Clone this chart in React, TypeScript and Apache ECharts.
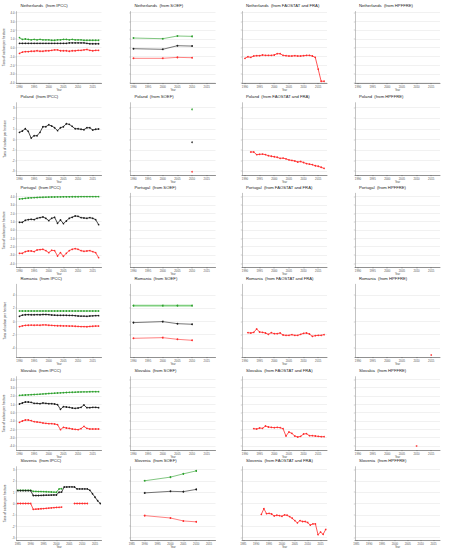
import React, { useEffect, useRef } from "react";
import * as echarts from "echarts";

// ---------- categories ----------
const countries = ["Netherlands", "Poland", "Portugal", "Romania", "Slovakia", "Slovenia"];
const sources = ["IPCC", "SOEF", "FAOSTAT and FRA", "HPFFRE"];

const years9017 = [1990, 1991, 1992, 1993, 1994, 1995, 1996, 1997, 1998, 1999, 2000, 2001, 2002, 2003, 2004, 2005, 2006, 2007, 2008, 2009, 2010, 2011, 2012, 2013, 2014, 2015, 2016, 2017];
const years8517 = [1985, 1986, 1987, 1988, 1989, 1990, 1991, 1992, 1993, 1994, 1995, 1996, 1997, 1998, 1999, 2000, 2001, 2002, 2003, 2004, 2005, 2006, 2007, 2008, 2009, 2010, 2011, 2012, 2013, 2014, 2015, 2016, 2017];
const years9117 = years9017.slice(1);
const years9217 = years9017.slice(2);
const years9317 = years9017.slice(3);
const soefYears = [1990, 2000, 2005, 2010];

const xTicks = [1990, 1995, 2000, 2005, 2010, 2015];
const xTicksSlovenia = [1985, 1990, 1995, 2000, 2005, 2010, 2015];

const yTicks9 = [-4, -3, -2, -1, 0, 1, 2, 3, 4];
const yTicks7 = [-3, -2, -1, 0, 1, 2, 3];
const yTicks5 = [-4, -2, 0, 2, 4];

// ---------- Netherlands ----------
const nlIpccGain = [1.15, 0.95, 1.0, 0.95, 0.9, 0.95, 0.9, 0.95, 0.9, 0.9, 0.9, 0.85, 0.85, 0.9, 0.9, 0.95, 0.95, 0.9, 0.95, 0.9, 0.9, 0.9, 0.85, 0.85, 0.85, 0.85, 0.85, 0.85];
const nlIpccNet = [0.5, 0.5, 0.5, 0.5, 0.5, 0.5, 0.5, 0.5, 0.5, 0.5, 0.5, 0.5, 0.5, 0.5, 0.5, 0.5, 0.5, 0.55, 0.55, 0.55, 0.55, 0.55, 0.55, 0.5, 0.45, 0.45, 0.45, 0.45];
const nlIpccLoss = [-0.65, -0.5, -0.45, -0.45, -0.4, -0.4, -0.35, -0.4, -0.4, -0.35, -0.35, -0.3, -0.25, -0.25, -0.35, -0.35, -0.35, -0.4, -0.35, -0.35, -0.3, -0.3, -0.25, -0.2, -0.3, -0.35, -0.3, -0.3];
const nlSoefGain = [1.11, 1.03, 1.34, 1.3];
const nlSoefNet = [-0.11, -0.18, 0.23, 0.19];
const nlSoefLoss = [-1.21, -1.21, -1.1, -1.14];
const nlFao = [-1.21, -1.03, -1.1, -0.95, -0.91, -0.91, -0.83, -0.87, -0.87, -0.87, -0.83, -0.68, -0.68, -0.87, -0.91, -0.95, -0.95, -0.91, -0.95, -0.95, -0.91, -0.87, -0.87, -0.95, -1.1, -2.45, -3.83, -3.83];

// ---------- Poland ----------
const plIpccNet = [0.66, 0.79, 1.0, 0.76, 0.12, 0.34, 0.34, 0.66, 1.19, 1.19, 1.38, 1.26, 1.1, 0.82, 1.1, 1.19, 1.48, 1.42, 1.23, 1.0, 1.0, 0.95, 0.91, 1.1, 1.1, 0.88, 0.95, 0.98];
const plSoefYear = [2010];
const plSoefGain = [2.84];
const plSoefNet = [-0.28];
const plSoefLoss = [-3.07];
const plFao = [-1.2, -1.2, -1.45, -1.42, -1.4, -1.45, -1.55, -1.6, -1.65, -1.7, -1.8, -1.78, -1.85, -1.95, -2.0, -2.05, -2.15, -2.1, -2.2, -2.3, -2.35, -2.4, -2.5, -2.55, -2.65, -2.75];

// ---------- Portugal ----------
const ptIpccGain = [3.72, 3.75, 3.8, 3.84, 3.86, 3.88, 3.9, 3.92, 3.93, 3.94, 3.95, 3.96, 3.96, 3.97, 3.97, 3.98, 3.98, 3.98, 3.99, 3.99, 3.99, 4.0, 4.0, 4.0, 4.0, 4.0, 4.0, 4.0];
const ptIpccNet = [0.92, 0.92, 1.16, 1.24, 1.28, 1.24, 1.4, 1.48, 1.56, 1.4, 1.12, 1.4, 1.52, 0.8, 1.2, 0.76, 1.08, 1.4, 1.52, 1.68, 1.64, 1.48, 1.44, 1.4, 1.48, 1.4, 1.24, 0.64];
const ptIpccLoss = [-2.8, -2.8, -2.6, -2.52, -2.52, -2.6, -2.4, -2.36, -2.32, -2.48, -2.72, -2.44, -2.48, -3.12, -2.72, -3.16, -2.8, -2.48, -2.32, -2.24, -2.32, -2.48, -2.56, -2.52, -2.48, -2.6, -2.72, -3.32];

// ---------- Romania ----------
const roIpccGain = [1.55, 1.55, 1.55, 1.55, 1.55, 1.55, 1.55, 1.55, 1.55, 1.55, 1.55, 1.55, 1.55, 1.55, 1.55, 1.55, 1.55, 1.55, 1.55, 1.55, 1.55, 1.55, 1.55, 1.55, 1.55, 1.55, 1.55, 1.55];
const roIpccNet = [0.75, 0.93, 0.98, 1.0, 0.98, 0.98, 1.0, 0.98, 1.02, 1.02, 1.0, 0.95, 0.92, 0.9, 0.9, 0.9, 0.9, 0.88, 0.88, 0.85, 0.8, 0.78, 0.78, 0.75, 0.8, 0.82, 0.85, 0.85];
const roIpccLoss = [-0.81, -0.7, -0.62, -0.6, -0.58, -0.6, -0.58, -0.6, -0.55, -0.55, -0.6, -0.62, -0.65, -0.68, -0.68, -0.7, -0.7, -0.72, -0.72, -0.75, -0.78, -0.8, -0.8, -0.82, -0.78, -0.75, -0.72, -0.72];
const roSoefGain = [2.36, 2.36, 2.36, 2.36];
const roSoefNet = [-0.2, -0.05, -0.36, -0.45];
const roSoefLoss = [-2.57, -2.47, -2.72, -2.87];
const roFao = [-1.72, -1.77, -1.67, -1.16, -1.62, -1.67, -1.77, -1.97, -1.72, -1.87, -1.87, -1.77, -2.07, -2.12, -2.12, -2.02, -2.12, -2.12, -1.97, -1.82, -1.77, -1.92, -2.27, -2.17, -2.12, -2.12, -2.02];
const roHpfYear = [2015];
const roHpf = [-5.09];

// ---------- Slovakia ----------
const skIpccGain = [2.08, 2.1, 2.12, 2.14, 2.16, 2.18, 2.2, 2.22, 2.25, 2.27, 2.3, 2.32, 2.34, 2.36, 2.38, 2.4, 2.42, 2.44, 2.45, 2.46, 2.48, 2.49, 2.5, 2.5, 2.51, 2.52, 2.52, 2.52];
const skIpccNet = [1.04, 1.16, 1.28, 1.28, 1.24, 1.12, 1.12, 1.08, 1.16, 1.12, 1.08, 1.08, 1.04, 0.96, 0.4, 0.72, 0.68, 0.64, 0.56, 0.52, 0.56, 0.64, 0.92, 0.6, 0.6, 0.64, 0.64, 0.6];
const skIpccLoss = [-1.16, -1.0, -0.88, -0.88, -0.96, -1.08, -1.12, -1.16, -1.24, -1.28, -1.32, -1.32, -1.36, -1.44, -2.04, -1.76, -1.84, -1.88, -1.96, -2.0, -2.04, -1.92, -1.64, -1.88, -1.96, -1.96, -1.96, -1.96];
const skFao = [-1.92, -1.96, -1.84, -1.88, -1.6, -1.72, -1.76, -1.8, -1.76, -1.8, -1.92, -2.8, -2.32, -2.48, -2.8, -2.92, -2.84, -2.56, -2.52, -2.76, -2.76, -2.8, -2.84, -2.88, -2.88];
const skHpfYear = [2010];
const skHpf = [-4.0];

// ---------- Slovenia ----------
const siIpccGain = [1.16, 1.16, 1.16, 1.16, 1.16, 1.16, 1.07, 1.06, 1.05, 1.05, 1.04, 1.03, 1.02, 1.01, 1.0, 0.99, 1.28, 1.3, null, null, null, null, null, null, null, null, null, null, null, null, null, null, null];
const siIpccNet = [1.13, 1.13, 1.13, 1.13, 1.13, 1.13, 0.7, 0.7, 0.7, 0.71, 0.72, 0.73, 0.73, 0.74, 0.75, 0.75, 0.99, 1.0, 1.45, 1.45, 1.46, 1.46, 1.45, 1.28, 1.28, 1.28, 1.28, 1.28, 1.16, 0.86, 0.55, 0.24, 0.0];
const siIpccLoss = [0, 0, 0, 0, 0, 0, -0.52, -0.5, -0.49, -0.47, -0.45, -0.43, -0.41, -0.39, -0.37, -0.35, -0.34, -0.32, null, null, null, null, 0, 0, 0, 0, 0, 0, null, null, null, null, null];
const siSoefGain = [2.0, 2.32, 2.61, 2.87];
const siSoefNet = [0.93, 1.07, 1.04, 1.24];
const siSoefLoss = [-1.07, -1.28, -1.54, -1.62];
const siFao = [-0.96, -0.46, -0.9, -0.87, -0.93, -1.1, -1.04, -1.07, -1.13, -1.01, -1.04, -1.16, -1.3, -1.51, -1.71, -1.51, -1.59, -1.59, -1.68, -1.91, -1.8, -1.8, -2.75, -2.52, -2.72, -2.29];

// ---------- styling / layout ----------
const GREEN = "#2ca02c";
const RED = "#ff2b2b";
const BLACK = "#1a1a1a";
const FONT = "Liberation Sans, Arial, sans-serif";

const colLeft = [16.5, 130.5, 242, 355];
const colWidth = 85;
const rowTop = [11.5, 102.7, 193.3, 284.3, 376.7, 466.7];
const rowBottom = [83, 175, 267.3, 357, 450, 541];
const rowY = [
  { min: -4.03, max: 4.14, ticks: yTicks9, dec: 1 },
  { min: -3.38, max: 3.47, ticks: yTicks7, dec: 0 },
  { min: -4.48, max: 4.4, ticks: yTicks9, dec: 1 },
  { min: -5.39, max: 5.58, ticks: yTicks5, dec: 0 },
  { min: -4.48, max: 4.32, ticks: yTicks9, dec: 1 },
  { min: -3.22, max: 3.24, ticks: yTicks7, dec: 0 },
];

type S = { x: number[]; y: (number | null)[]; color: string; kind: "ipcc" | "soef" | "dot" | "fao"; width?: number };

const panelSeries: S[][] = [
  // Netherlands
  [
    { x: years9017, y: nlIpccGain, color: GREEN, kind: "ipcc" },
    { x: years9017, y: nlIpccNet, color: BLACK, kind: "ipcc" },
    { x: years9017, y: nlIpccLoss, color: RED, kind: "ipcc" },
  ],
  [
    { x: soefYears, y: nlSoefGain, color: GREEN, kind: "soef" },
    { x: soefYears, y: nlSoefNet, color: BLACK, kind: "soef" },
    { x: soefYears, y: nlSoefLoss, color: RED, kind: "soef" },
  ],
  [{ x: years9017, y: nlFao, color: RED, kind: "fao" }],
  [],
  // Poland
  [{ x: years9017, y: plIpccNet, color: BLACK, kind: "ipcc" }],
  [
    { x: plSoefYear, y: plSoefGain, color: GREEN, kind: "dot" },
    { x: plSoefYear, y: plSoefNet, color: BLACK, kind: "dot" },
    { x: plSoefYear, y: plSoefLoss, color: RED, kind: "dot" },
  ],
  [{ x: years9217, y: plFao, color: RED, kind: "fao" }],
  [],
  // Portugal
  [
    { x: years9017, y: ptIpccGain, color: GREEN, kind: "ipcc" },
    { x: years9017, y: ptIpccNet, color: BLACK, kind: "ipcc" },
    { x: years9017, y: ptIpccLoss, color: RED, kind: "ipcc" },
  ],
  [],
  [],
  [],
  // Romania
  [
    { x: years9017, y: roIpccGain, color: GREEN, kind: "ipcc" },
    { x: years9017, y: roIpccNet, color: BLACK, kind: "ipcc" },
    { x: years9017, y: roIpccLoss, color: RED, kind: "ipcc" },
  ],
  [
    { x: soefYears, y: roSoefGain, color: "#7fcf7f", kind: "soef", width: 1.6 },
    { x: soefYears, y: roSoefNet, color: BLACK, kind: "soef" },
    { x: soefYears, y: roSoefLoss, color: RED, kind: "soef" },
  ],
  [{ x: years9117, y: roFao, color: RED, kind: "fao" }],
  [{ x: roHpfYear, y: roHpf, color: RED, kind: "dot" }],
  // Slovakia
  [
    { x: years9017, y: skIpccGain, color: GREEN, kind: "ipcc" },
    { x: years9017, y: skIpccNet, color: BLACK, kind: "ipcc" },
    { x: years9017, y: skIpccLoss, color: RED, kind: "ipcc" },
  ],
  [],
  [{ x: years9317, y: skFao, color: RED, kind: "fao" }],
  [{ x: skHpfYear, y: skHpf, color: RED, kind: "dot" }],
  // Slovenia
  [
    { x: years8517, y: siIpccGain, color: GREEN, kind: "ipcc" },
    { x: years8517, y: siIpccNet, color: BLACK, kind: "ipcc" },
    { x: years8517, y: siIpccLoss, color: RED, kind: "ipcc" },
  ],
  [
    { x: soefYears, y: siSoefGain, color: GREEN, kind: "soef" },
    { x: soefYears, y: siSoefNet, color: BLACK, kind: "soef" },
    { x: soefYears, y: siSoefLoss, color: RED, kind: "soef" },
  ],
  [{ x: years9217, y: siFao, color: RED, kind: "fao" }],
  [],
];

function buildOption() {
  const grid: any[] = [];
  const xAxis: any[] = [];
  const yAxis: any[] = [];
  const series: any[] = [];
  const title: any[] = [];

  for (let r = 0; r < 6; r++) {
    for (let c = 0; c < 4; c++) {
      const p = r * 4 + c;
      const isSi = r === 5;
      const ry = rowY[r];
      grid.push({
        left: colLeft[c],
        top: rowTop[r],
        width: colWidth,
        height: rowBottom[r] - rowTop[r],
        containLabel: false,
      });
      const xt = isSi ? xTicksSlovenia : xTicks;
      xAxis.push({
        gridIndex: p,
        type: "value",
        min: isSi ? 1984.5 : 1989,
        max: isSi ? 2017.5 : 2018,
        axisLine: { show: true, onZero: false, lineStyle: { color: "#444", width: 0.6 } },
        axisTick: { show: true, length: 1.2, customValues: xt, lineStyle: { color: "#444", width: 0.4 } },
        axisLabel: {
          customValues: xt,
          fontSize: 2.8,
          color: "#555",
          margin: 2,
          fontFamily: FONT,
          formatter: (v: number) => String(v),
        },
        splitLine: { show: false },
        name: "Year",
        nameLocation: "middle",
        nameGap: 6,
        nameTextStyle: { fontSize: 2.6, color: "#444", fontFamily: FONT },
      });
      yAxis.push({
        gridIndex: p,
        type: "value",
        min: ry.min,
        max: ry.max,
        axisLine: { show: true, onZero: false, lineStyle: { color: "#9a9a9a", width: 0.6 } },
        axisTick: { show: true, length: 1.2, customValues: ry.ticks, lineStyle: { color: "#888", width: 0.4 } },
        axisLabel: {
          show: c === 0,
          customValues: ry.ticks,
          fontSize: 2.8,
          color: "#555",
          margin: 2,
          fontFamily: FONT,
          formatter: (v: number) => (ry.dec ? v.toFixed(1) : String(v)),
        },
        splitLine: { show: true, lineStyle: { color: "#e2e2e2", width: 0.5 } },
        name: c === 0 ? "Tons of carbon per hectare" : "",
        nameLocation: "middle",
        nameGap: 10,
        nameTextStyle: { fontSize: 3.2, color: "#333", fontFamily: FONT },
      });
      title.push({
        text: `${countries[r]}  (from ${sources[c]})`,
        left: colLeft[c] + 4,
        top: rowTop[r] - 8,
        padding: 0,
        textStyle: { fontSize: 4.2, fontWeight: "normal", color: "#222", fontFamily: FONT },
      });

      for (const s of panelSeries[p]) {
        const data = s.x.map((xv, i) => (s.y[i] == null ? [xv, "-"] : [xv, s.y[i]]));
        if (s.kind === "dot") {
          series.push({
            type: "scatter",
            xAxisIndex: p,
            yAxisIndex: p,
            data,
            symbol: "circle",
            symbolSize: 1.8,
            itemStyle: { color: s.color },
            silent: true,
          });
        } else {
          const ipcc = s.kind === "ipcc" || s.kind === "fao";
          series.push({
            type: "line",
            xAxisIndex: p,
            yAxisIndex: p,
            data,
            symbol: "circle",
            symbolSize: ipcc ? 1.6 : 1.8,
            showSymbol: true,
            connectNulls: false,
            lineStyle: { color: s.color, width: s.width ?? (ipcc ? 0.8 : 0.6) },
            itemStyle: { color: s.kind === "soef" && s.width ? GREEN : s.color },
            silent: true,
          });
        }
      }
    }
  }

  return {
    animation: false,
    backgroundColor: "#ffffff",
    title,
    grid,
    xAxis,
    yAxis,
    series,
  };
}

export default function App() {
  const ref = useRef<HTMLDivElement>(null);
  useEffect(() => {
    if (!ref.current) return;
    const chart = echarts.init(ref.current, null, { renderer: "svg" });
    chart.setOption(buildOption() as any);
    return () => chart.dispose();
  }, []);
  return (
    <div
      ref={ref}
      style={{ position: "absolute", left: 0, top: 0, width: 449, height: 550, background: "#fff" }}
    />
  );
}
